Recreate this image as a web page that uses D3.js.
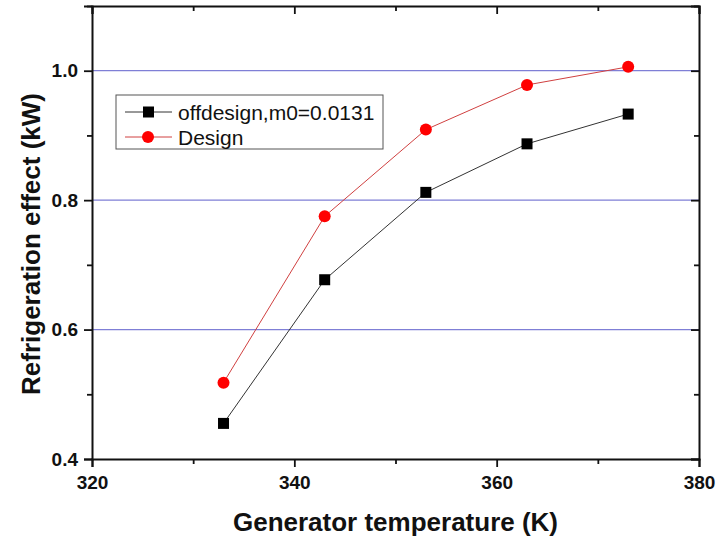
<!DOCTYPE html>
<html><head><meta charset="utf-8">
<script src="https://cdn.jsdelivr.net/npm/d3@7"></script>
<style>body{margin:0;background:#fff}svg{display:block}text{font-family:Arial,"Liberation Sans",sans-serif}</style>
</head><body><svg id="c" width="717" height="537"></svg>
<script>
const temps = [333, 343, 353, 363, 373];
const offdesign = [0.455, 0.677, 0.812, 0.887, 0.933];
const design = [0.518, 0.775, 0.909, 0.978, 1.006];
const xTicks = [320, 340, 360, 380];
const yTicks = [0.4, 0.6, 0.8, 1.0];
const gridVals = [0.6, 0.8, 1.0];
const seriesNames = ["offdesign,m0=0.0131", "Design"];

(function () {
const svg = d3.select("#c");
const L = 92, R = 699, T = 6, B = 459;
const x = d3.scaleLinear().domain([320, 380]).range([L, R]);
const y = d3.scaleLinear().domain([0.4, 1.1]).range([B, T]);

// grid
svg.append("g").selectAll("line").data(gridVals).join("line")
  .attr("x1", L).attr("x2", R).attr("y1", d => y(d)).attr("y2", d => y(d))
  .attr("stroke", "#7f7fd6").attr("stroke-width", 1.2);

const fmt = d3.format(".1f");
const xMinor = [330, 350, 370], yMinor = [0.5, 0.7, 0.9, 1.1];
const gB = svg.append("g").attr("transform", `translate(0,${B})`)
  .call(d3.axisBottom(x).tickValues(xTicks).tickSize(8).tickPadding(9).tickFormat(d3.format("d")));
gB.append("g").attr("class", "minor").call(d3.axisBottom(x).tickValues(xMinor).tickSize(5).tickFormat(""));
const gL = svg.append("g").attr("transform", `translate(${L},0)`)
  .call(d3.axisLeft(y).tickValues(yTicks).tickSize(8).tickPadding(6).tickFormat(fmt));
gL.append("g").attr("class", "minor").call(d3.axisLeft(y).tickValues(yMinor).tickSize(5).tickFormat(""));
const gT = svg.append("g").attr("transform", `translate(0,${T})`)
  .call(d3.axisTop(x).tickValues(xTicks).tickSize(-8).tickFormat(""));
gT.append("g").attr("class", "minor").call(d3.axisTop(x).tickValues(xMinor).tickSize(-5).tickFormat(""));
const gR = svg.append("g").attr("transform", `translate(${R},0)`)
  .call(d3.axisRight(y).tickValues(yTicks).tickSize(-8).tickFormat(""));
gR.append("g").attr("class", "minor").call(d3.axisRight(y).tickValues(yMinor).tickSize(-5).tickFormat(""));

svg.selectAll(".minor .domain").remove();
svg.selectAll(".domain").attr("stroke", "#111").attr("stroke-width", 2);
svg.selectAll(".tick line").attr("stroke", "#111").attr("stroke-width", 1.8);
svg.selectAll(".tick text").attr("font-size", 19).attr("font-weight", "bold").attr("fill", "#111");

// lines
const line = d3.line().x((d, i) => x(temps[i])).y(d => y(d));
svg.append("path").datum(offdesign).attr("d", line).attr("fill", "none").attr("stroke", "#333").attr("stroke-width", 1);
svg.append("path").datum(design).attr("d", line).attr("fill", "none").attr("stroke", "#d04040").attr("stroke-width", 1);

// markers
svg.append("g").selectAll("rect").data(offdesign).join("rect")
  .attr("x", (d, i) => x(temps[i]) - 5.5).attr("y", d => y(d) - 5.5)
  .attr("width", 11).attr("height", 11).attr("fill", "#000");
svg.append("g").selectAll("circle").data(design).join("circle")
  .attr("cx", (d, i) => x(temps[i])).attr("cy", d => y(d)).attr("r", 6).attr("fill", "#f00");

// legend
const lg = svg.append("g");
lg.append("rect").attr("x", 116).attr("y", 95).attr("width", 267).attr("height", 54)
  .attr("fill", "#fff").attr("stroke", "#555").attr("stroke-width", 1);
const rows = [{n: seriesNames[0], c: "#333", m: "sq"}, {n: seriesNames[1], c: "#d04040", m: "ci"}];
rows.forEach((r, i) => {
  const yy = 112 + i * 25;
  lg.append("line").attr("x1", 125).attr("x2", 172).attr("y1", yy).attr("y2", yy).attr("stroke", r.c).attr("stroke-width", 1);
  if (r.m === "sq") lg.append("rect").attr("x", 143).attr("y", yy - 5.5).attr("width", 11).attr("height", 11).attr("fill", "#000");
  else lg.append("circle").attr("cx", 148).attr("cy", yy).attr("r", 6).attr("fill", "#f00");
  lg.append("text").attr("x", 178).attr("y", yy + 7.5).attr("font-size", 21).attr("fill", "#111").text(r.n);
});

// axis titles
svg.append("text").attr("x", (L + R) / 2).attr("y", 531).attr("text-anchor", "middle")
  .attr("font-size", 26).attr("font-weight", "bold").attr("fill", "#111").text("Generator temperature (K)");
svg.append("text").attr("transform", `translate(40,${244}) rotate(-90)`).attr("text-anchor", "middle")
  .attr("font-size", 26).attr("font-weight", "bold").attr("fill", "#111").text("Refrigeration effect (kW)");
})();
</script></body></html>
